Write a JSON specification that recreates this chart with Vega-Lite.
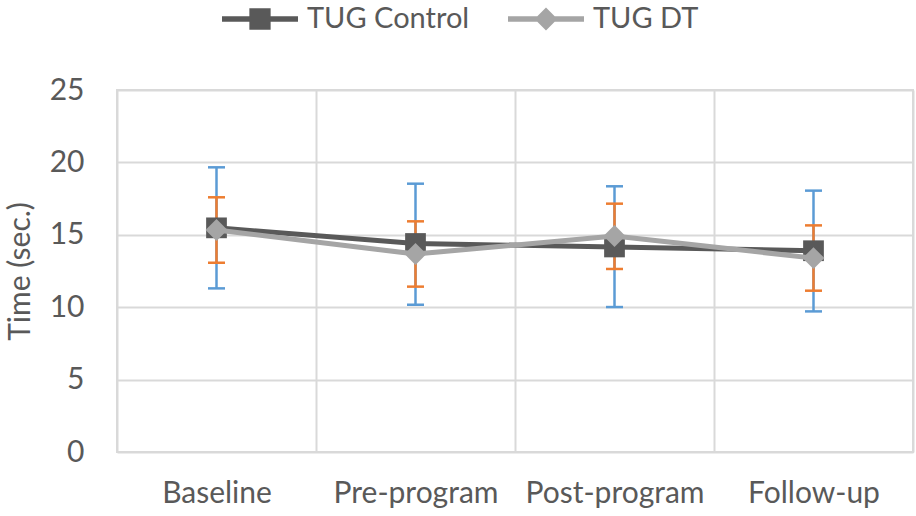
{
  "$schema": "https://vega.github.io/schema/vega-lite/v6.json",
  "width": 796,
  "height": 362,
  "autosize": {"type": "none"},
  "padding": {"left": 117, "top": 90, "right": 3, "bottom": 64},
  "background": "white",
  "config": {
    "font": "Lato",
    "view": {"stroke": "#D9D9D9", "strokeWidth": 2},
    "axis": {
      "labelFont": "Lato",
      "titleFont": "Lato",
      "labelColor": "#595959",
      "titleColor": "#595959",
      "labelFontSize": 30,
      "titleFontSize": 30,
      "titleFontWeight": "normal",
      "domain": false,
      "ticks": false,
      "gridColor": "#D9D9D9",
      "gridWidth": 2
    }
  },
  "data": {
    "values": [
      {"cat": "Baseline", "series": "TUG Control", "mean": 15.48, "lower": 11.3, "upper": 19.66},
      {"cat": "Baseline", "series": "TUG DT", "mean": 15.33, "lower": 13.07, "upper": 17.59},
      {"cat": "Pre-program", "series": "TUG Control", "mean": 14.4, "lower": 10.17, "upper": 18.53},
      {"cat": "Pre-program", "series": "TUG DT", "mean": 13.67, "lower": 11.42, "upper": 15.93},
      {"cat": "Post-program", "series": "TUG Control", "mean": 14.16, "lower": 10.01, "upper": 18.35},
      {"cat": "Post-program", "series": "TUG DT", "mean": 14.92, "lower": 12.64, "upper": 17.15},
      {"cat": "Follow-up", "series": "TUG Control", "mean": 13.9, "lower": 9.71, "upper": 18.05},
      {"cat": "Follow-up", "series": "TUG DT", "mean": 13.39, "lower": 11.14, "upper": 15.65}
    ]
  },
  "encoding": {
    "x": {
      "field": "cat",
      "type": "nominal",
      "sort": ["Baseline", "Pre-program", "Post-program", "Follow-up"],
      "scale": {"type": "band", "paddingInner": 0, "paddingOuter": 0},
      "axis": {"title": null, "labelAngle": 0, "labelPadding": 26, "tickBand": "extent", "grid": true}
    }
  },
  "layer": [
    {
      "transform": [{"filter": "datum.series === 'TUG Control'"}],
      "layer": [
        {
          "mark": {"type": "rule", "color": "#5B9BD5", "strokeWidth": 2.5},
          "encoding": {
            "y": {
              "field": "lower",
              "type": "quantitative",
              "scale": {"domain": [0, 25], "nice": false},
              "axis": {"title": "Time (sec.)", "values": [0, 5, 10, 15, 20, 25], "labelPadding": 33, "titlePadding": 14}
            },
            "y2": {"field": "upper"}
          }
        },
        {
          "mark": {"type": "tick", "color": "#5B9BD5", "size": 17, "thickness": 2.5, "opacity": 1},
          "encoding": {"y": {"field": "lower", "type": "quantitative"}}
        },
        {
          "mark": {"type": "tick", "color": "#5B9BD5", "size": 17, "thickness": 2.5, "opacity": 1},
          "encoding": {"y": {"field": "upper", "type": "quantitative"}}
        }
      ]
    },
    {
      "transform": [{"filter": "datum.series === 'TUG DT'"}],
      "layer": [
        {
          "mark": {"type": "rule", "color": "#ED7D31", "strokeWidth": 2.5},
          "encoding": {
            "y": {"field": "lower", "type": "quantitative"},
            "y2": {"field": "upper"}
          }
        },
        {
          "mark": {"type": "tick", "color": "#ED7D31", "size": 17, "thickness": 2.5, "opacity": 1},
          "encoding": {"y": {"field": "lower", "type": "quantitative"}}
        },
        {
          "mark": {"type": "tick", "color": "#ED7D31", "size": 17, "thickness": 2.5, "opacity": 1},
          "encoding": {"y": {"field": "upper", "type": "quantitative"}}
        }
      ]
    },
    {
      "transform": [{"filter": "datum.series === 'TUG Control'"}],
      "layer": [
        {
          "mark": {"type": "line", "strokeWidth": 5},
          "encoding": {
            "y": {"field": "mean", "type": "quantitative"},
            "color": {
              "field": "series",
              "type": "nominal",
              "scale": {"domain": ["TUG Control", "TUG DT"], "range": ["#595959", "#A5A5A5"]},
              "legend": {
                "title": null,
                "orient": "none",
                "direction": "horizontal",
                "legendX": 105,
                "legendY": -109,
                "padding": 0,
                "symbolSize": 5776,
                "labelFont": "Lato",
                "labelFontSize": 29,
                "labelColor": "#595959",
                "labelOffset": 9,
                "labelLimit": 0,
                "columnPadding": 38,
                "encode": {
                  "symbols": {
                    "update": {
                      "shape": {"signal": "datum.value === 'TUG Control' ? 'M-1,-0.07H1V0.07H-1Z M-0.28,-0.28H0.28V0.28H-0.28Z' : 'M-1,-0.07H1V0.07H-1Z M0,-0.3L0.3,0L0,0.3L-0.3,0Z'"},
                      "fill": {"scale": "color", "field": "value"},
                      "strokeWidth": {"value": 0},
                      "opacity": {"value": 1}
                    }
                  }
                }
              }
            }
          }
        },
        {
          "mark": {"type": "point", "shape": "square", "filled": true, "size": 430, "opacity": 1},
          "encoding": {
            "y": {"field": "mean", "type": "quantitative"},
            "color": {"field": "series", "type": "nominal"}
          }
        }
      ]
    },
    {
      "transform": [{"filter": "datum.series === 'TUG DT'"}],
      "layer": [
        {
          "mark": {"type": "line", "strokeWidth": 5},
          "encoding": {
            "y": {"field": "mean", "type": "quantitative"},
            "color": {"field": "series", "type": "nominal"}
          }
        },
        {
          "mark": {"type": "point", "shape": "diamond", "filled": true, "size": 480, "opacity": 1},
          "encoding": {
            "y": {"field": "mean", "type": "quantitative"},
            "color": {"field": "series", "type": "nominal"}
          }
        }
      ]
    }
  ]
}
